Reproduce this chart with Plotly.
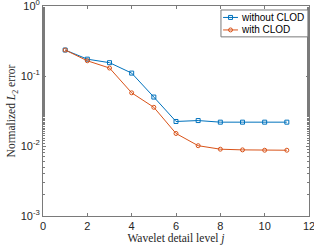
import plotly.graph_objects as go

levels = [1, 2, 3, 4, 5, 6, 7, 8, 9, 10, 11]
without_clod = [0.235, 0.174, 0.155, 0.110, 0.050, 0.0224, 0.0231, 0.0219, 0.0219, 0.0219, 0.0219]
with_clod = [0.235, 0.165, 0.130, 0.0575, 0.0357, 0.0151, 0.0101, 0.0090, 0.0088, 0.0087, 0.0087]
series_names = ["without CLOD", "with CLOD"]

ytick_vals = [1e-3, 1e-2, 1e-1, 1]
ytick_text = ["10<sup>-3</sup>", "10<sup>-2</sup>", "10<sup>-1</sup>", "10<sup>0</sup>"]
xtick_vals = [0, 2, 4, 6, 8, 10, 12]

BLUE, ORANGE = "#0072BD", "#D95319"
axcol = "#7a7a7a"

fig = go.Figure()
fig.add_trace(go.Scatter(x=levels, y=without_clod, mode="lines+markers", name=series_names[0],
                         line=dict(color=BLUE, width=1),
                         marker=dict(symbol="square-open", size=4, color=BLUE, line=dict(width=1))))
fig.add_trace(go.Scatter(x=levels, y=with_clod, mode="lines+markers", name=series_names[1],
                         line=dict(color=ORANGE, width=1),
                         marker=dict(symbol="circle-open", size=4, color=ORANGE, line=dict(width=1))))

# MATLAB-style compact legend (paper coordinates)
shapes = [dict(type="rect", xref="paper", yref="paper", x0=0.669, x1=0.996, y0=0.853, y1=0.981,
               line=dict(color=axcol, width=1), fillcolor="white", layer="above")]
annotations = []
rows = [(0.9455, BLUE, "rect"), (0.886, ORANGE, "circle")]
for (yy, col, sym), name in zip(rows, series_names):
    shapes.append(dict(type="line", xref="paper", yref="paper", x0=0.677, x1=0.733, y0=yy, y1=yy,
                       line=dict(color=col, width=1), layer="above"))
    shapes.append(dict(type=sym, xref="paper", yref="paper", x0=0.705 - 0.0075, x1=0.705 + 0.0075,
                       y0=yy - 0.0095, y1=yy + 0.0095, line=dict(color=col, width=1), layer="above"))
    annotations.append(dict(xref="paper", yref="paper", x=0.737, y=yy, xanchor="left", yanchor="middle",
                            text=name, showarrow=False, font=dict(size=10, color="#000")))

fig.update_layout(
    width=314, height=246,
    margin=dict(l=43, r=5, t=6, b=30, autoexpand=False),
    plot_bgcolor="white", paper_bgcolor="white",
    font=dict(family="Liberation Sans, Arial", size=11, color="#262626"),
    showlegend=False,
    shapes=shapes, annotations=annotations,
    xaxis=dict(range=[0, 12], tickvals=xtick_vals, ticks="inside", ticklen=3,
               showline=True, mirror="ticks", linecolor=axcol, linewidth=1,
               showgrid=False, zeroline=False, tickcolor=axcol, automargin=False,
               ticklabeloverflow="allow",
               title=dict(text="Wavelet detail level <i>j</i>", standoff=0,
                          font=dict(family="Liberation Serif, DejaVu Serif", size=11.5, color="#262626"))),
    yaxis=dict(type="log", range=[-3, 0], tickvals=ytick_vals, ticktext=ytick_text,
               ticks="inside", ticklen=3, showline=True, mirror="ticks", linecolor=axcol, linewidth=1,
               showgrid=False, zeroline=False, tickcolor=axcol, automargin=False,
               ticklabeloverflow="allow",
               minor=dict(ticks="inside", ticklen=2, tickcolor=axcol, showgrid=False),
               title=dict(text="Normalized <i>L</i><sub>2</sub> error", standoff=2,
                          font=dict(family="Liberation Serif, DejaVu Serif", size=11.5, color="#262626"))),
)
fig.write_html("out.html", config={"displayModeBar": False},
               post_script="document.body.style.margin='0';document.body.style.overflow='hidden';")
